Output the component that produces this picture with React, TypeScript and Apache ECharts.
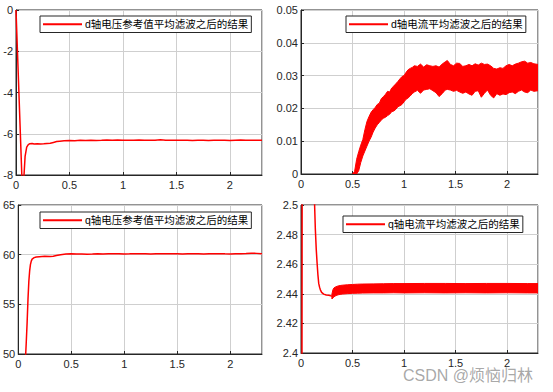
import React, { useEffect, useRef } from "react";
import * as echarts from "echarts";

// ---------- data ----------
const legendNames = [
  "d轴电压参考值平均滤波之后的结果",
  "d轴电流平均滤波之后的结果",
  "q轴电压参考值平均滤波之后的结果",
  "q轴电流平均滤波之后的结果",
];

// top-left: d-axis voltage reference (filtered)
const dVoltT = [0, 0.055, 0.065, 0.075, 0.085, 0.1, 0.115, 0.13, 0.15, 0.17, 0.2, 0.23, 0.26, 0.29, 0.32, 0.35, 0.38, 0.41, 0.45, 0.5,
  0.55, 0.6, 0.65, 0.7, 0.75, 0.8, 0.85, 0.9, 0.95, 1, 1.05, 1.1, 1.15, 1.2, 1.25, 1.3, 1.35, 1.4, 1.45, 1.5, 1.55, 1.6, 1.65, 1.7, 1.75, 1.8, 1.85, 1.9, 1.95, 2, 2.05, 2.1, 2.15, 2.2, 2.25, 2.3];
const dVoltV = [0, -8.1, -8.3, -8.0, -7.1, -6.65, -6.53, -6.48, -6.47, -6.5, -6.48, -6.5, -6.49, -6.47, -6.46, -6.42, -6.38, -6.36, -6.34, -6.33,
  -6.34, -6.32, -6.33, -6.31, -6.33, -6.32, -6.30, -6.31, -6.30, -6.32, -6.31, -6.32, -6.30, -6.31, -6.32, -6.31, -6.29, -6.31, -6.32, -6.31, -6.32, -6.31, -6.33, -6.32, -6.31, -6.33, -6.32, -6.31, -6.32, -6.33, -6.31, -6.30, -6.31, -6.32, -6.31, -6.32];

// top-right: d-axis current (filtered) – envelope of the noisy band
const dCurT = [0.5, 0.52, 0.54, 0.56, 0.58, 0.6, 0.62, 0.64, 0.66, 0.68, 0.7, 0.72, 0.74, 0.76, 0.78, 0.8, 0.82, 0.84, 0.86, 0.88, 0.9, 0.92, 0.94, 0.96, 0.98, 1.0, 1.02, 1.04, 1.06, 1.08, 1.1,
  1.13, 1.16, 1.19, 1.22, 1.25, 1.28, 1.31, 1.34, 1.37, 1.4, 1.42, 1.45, 1.48, 1.51, 1.54, 1.57, 1.6, 1.63, 1.66, 1.69, 1.72, 1.75, 1.78, 1.81, 1.84, 1.87, 1.9, 1.93, 1.96, 1.99, 2.02, 2.05, 2.08, 2.11, 2.14, 2.17, 2.2, 2.23, 2.26, 2.3];
const dCurLo = [0, 0, 0, 0.001, 0.0035, 0.0055, 0.007, 0.0085, 0.01, 0.0112, 0.0128, 0.014, 0.015, 0.0157, 0.0165, 0.017, 0.0173, 0.0178, 0.0182, 0.019, 0.0192, 0.0197, 0.0205, 0.0208, 0.0212, 0.022, 0.0228, 0.0232, 0.0238, 0.0245, 0.025,
  0.0255, 0.0246, 0.0256, 0.0258, 0.026, 0.0254, 0.0248, 0.0236, 0.0245, 0.0256, 0.0258, 0.0256, 0.0252, 0.0255, 0.025, 0.0246, 0.025, 0.0244, 0.024, 0.0252, 0.0254, 0.0234, 0.0246, 0.0256, 0.024, 0.0232, 0.0245, 0.024, 0.0244, 0.0242, 0.0248, 0.025, 0.0245, 0.0252, 0.0256, 0.025, 0.0248, 0.0256, 0.0252, 0.0254];
const dCurUp = [0, 0.0008, 0.0045, 0.0068, 0.0088, 0.0105, 0.0135, 0.016, 0.0175, 0.0188, 0.0196, 0.0203, 0.0212, 0.0216, 0.023, 0.0236, 0.0243, 0.0252, 0.025, 0.0262, 0.0268, 0.0275, 0.0282, 0.029, 0.0297, 0.03, 0.031, 0.0318, 0.0322, 0.0325, 0.033,
  0.0328, 0.0335, 0.0326, 0.0333, 0.033, 0.0328, 0.033, 0.0326, 0.0335, 0.0342, 0.0346, 0.0334, 0.033, 0.0338, 0.0337, 0.0328, 0.033, 0.0334, 0.033, 0.0336, 0.0332, 0.0338, 0.0334, 0.0335, 0.033, 0.0322, 0.032, 0.0324, 0.0322, 0.033, 0.0334, 0.033, 0.0335, 0.0338, 0.0342, 0.0344, 0.0338, 0.034, 0.0336, 0.0334];

// bottom-left: q-axis voltage reference (filtered)
const qVoltT = [0.064, 0.068, 0.075, 0.084, 0.092, 0.1, 0.108, 0.115, 0.123, 0.131, 0.15, 0.17, 0.2, 0.25, 0.3, 0.33, 0.36, 0.4, 0.45, 0.5,
  0.55, 0.6, 0.65, 0.7, 0.75, 0.8, 0.85, 0.9, 0.95, 1, 1.05, 1.1, 1.15, 1.2, 1.25, 1.3, 1.35, 1.4, 1.45, 1.5, 1.55, 1.6, 1.65, 1.7, 1.75, 1.8, 1.85, 1.9, 1.95, 2, 2.05, 2.1, 2.15, 2.2, 2.25, 2.3];
const qVoltV = [46, 49.5, 51.0, 53.2, 55.5, 57.3, 58.4, 59.0, 59.35, 59.55, 59.7, 59.77, 59.8, 59.83, 59.82, 59.85, 59.92, 60.0, 60.06, 60.08,
  60.06, 60.07, 60.05, 60.06, 60.08, 60.07, 60.1, 60.08, 60.09, 60.07, 60.08, 60.1, 60.08, 60.09, 60.07, 60.08, 60.09, 60.08, 60.1, 60.09, 60.07, 60.08, 60.09, 60.08, 60.07, 60.09, 60.08, 60.1, 60.08, 60.07, 60.09, 60.1, 60.12, 60.15, 60.13, 60.1];

// bottom-right: q-axis current (filtered) – start-up curve, then noisy band
const qCurLineT = [0, 0.008, 0.014, 0.12, 0.132, 0.139, 0.148, 0.156, 0.164, 0.172, 0.18, 0.188, 0.2, 0.22, 0.245, 0.27, 0.29, 0.3];
const qCurLineV = [2.3, 2.3, 2.7, 2.56, 2.5, 2.484, 2.47, 2.461, 2.453, 2.447, 2.4445, 2.4427, 2.441, 2.4398, 2.4392, 2.439, 2.4386, 2.4384];
const qCurBandT = [0.3, 0.31, 0.32, 0.34, 0.36, 0.38, 0.4, 0.45, 0.5, 0.55, 0.6, 0.7, 0.8, 0.9, 1.0, 1.2, 1.4, 1.6, 1.8, 2.0, 2.2, 2.3];
const qCurBandLo = [2.4365, 2.4372, 2.438, 2.4388, 2.4393, 2.4396, 2.4398, 2.4401, 2.4403, 2.4404, 2.4405, 2.4406, 2.4406, 2.4407, 2.4406, 2.4407, 2.4406, 2.4407, 2.4406, 2.4407, 2.4406, 2.4406];
const qCurBandUp = [2.4398, 2.4428, 2.444, 2.4448, 2.4453, 2.4456, 2.4458, 2.4461, 2.4463, 2.4465, 2.4466, 2.4467, 2.4468, 2.4469, 2.4469, 2.447, 2.447, 2.4469, 2.447, 2.447, 2.4469, 2.4469];

// axis ranges / ticks
const xMax = 2.3;
const xInterval = 0.5;
const yRanges = [
  { min: -8, max: 0, interval: 2 },
  { min: 0, max: 0.05, interval: 0.01 },
  { min: 50, max: 65, interval: 5 },
  { min: 2.4, max: 2.5, interval: 0.02 },
];

// ---------- chart ----------
const FONT = "'Liberation Sans', Arial, 'Noto Sans CJK SC', sans-serif";
const RED = "#ff0000";
const DARK = "#262626";

const zip = (t: number[], v: number[]) => t.map((x, i) => [x, v[i]]);

function xAxis(gridIndex: number) {
  return {
    type: "value",
    gridIndex,
    min: 0,
    max: xMax,
    interval: xInterval,
    axisLine: { show: true, onZero: false, lineStyle: { color: DARK, width: 1 } },
    axisTick: { show: true, inside: true, length: 3, lineStyle: { color: DARK } },
    axisLabel: { showMaxLabel: false, fontSize: 11, color: DARK, margin: 4, fontFamily: FONT },
    splitLine: { show: true, lineStyle: { color: "#cfcfcf", width: 1 } },
  };
}
function yAxis(gridIndex: number) {
  const r = yRanges[gridIndex];
  return {
    type: "value",
    gridIndex,
    min: r.min,
    max: r.max,
    interval: r.interval,
    axisLine: { show: true, onZero: false, lineStyle: { color: DARK, width: 1 } },
    axisTick: { show: true, inside: true, length: 3, lineStyle: { color: DARK } },
    axisLabel: { fontSize: 11, color: DARK, margin: 3, fontFamily: FONT },
    splitLine: { show: true, lineStyle: { color: "#cfcfcf", width: 1 } },
  };
}

function bandSeries(idx: number, T: number[], Lo: number[], Up: number[]) {
  return {
    type: "custom",
    xAxisIndex: idx,
    yAxisIndex: idx,
    clip: true,
    silent: true,
    data: [[T[0], Lo[0]]],
    renderItem: (_p: any, api: any) => {
      const pts: number[][] = [];
      for (let i = 0; i < T.length; i++) pts.push(api.coord([T[i], Up[i]]));
      for (let i = T.length - 1; i >= 0; i--) pts.push(api.coord([T[i], Lo[i]]));
      return {
        type: "polygon",
        shape: { points: pts },
        style: { fill: RED, stroke: RED, lineWidth: 1 },
      };
    },
  };
}

function legend(idx: number, left: number, top: number) {
  return {
    data: [{ name: legendNames[idx], icon: "rect" }],
    left,
    top,
    orient: "horizontal",
    selectedMode: false,
    backgroundColor: "#ffffff",
    borderColor: DARK,
    borderWidth: 1,
    borderRadius: 0,
    padding: [3, 3, 3, 3],
    itemWidth: 39,
    itemHeight: 2,
    itemStyle: { color: RED, borderWidth: 0 },
    textStyle: { fontSize: 10.5, color: "#000", fontFamily: FONT, padding: [0, 0, 0, -2] },
  };
}

export default function App() {
  const ref = useRef<HTMLDivElement>(null);
  useEffect(() => {
    if (!ref.current) return;
    const chart = echarts.init(ref.current, null, { renderer: "svg" });
    const grids = [
      { left: 16, top: 10, width: 246, height: 165 },
      { left: 301, top: 10, width: 237, height: 164 },
      { left: 16, top: 205, width: 246, height: 149 },
      { left: 301, top: 205, width: 237, height: 148 },
    ].map((g) => ({ ...g, show: true, borderColor: DARK, borderWidth: 1, backgroundColor: "#fff", containLabel: false }));

    const lineBase = { type: "line", symbol: "none", showSymbol: false, clip: true, lineStyle: { color: RED, width: 1.5 }, itemStyle: { color: RED } };

    chart.setOption({
      animation: false,
      backgroundColor: "#ffffff",
      grid: grids,
      xAxis: [0, 1, 2, 3].map(xAxis),
      yAxis: [0, 1, 2, 3].map(yAxis),
      legend: [legend(0, 40, 16), legend(1, 346, 16), legend(2, 40, 212), legend(3, 343, 216)],
      series: [
        { ...lineBase, name: legendNames[0], xAxisIndex: 0, yAxisIndex: 0, data: zip(dVoltT, dVoltV) },
        { ...lineBase, name: legendNames[1], xAxisIndex: 1, yAxisIndex: 1, data: [] },
        bandSeries(1, dCurT, dCurLo, dCurUp),
        { ...lineBase, name: legendNames[2], xAxisIndex: 2, yAxisIndex: 2, data: zip(qVoltT, qVoltV) },
        { ...lineBase, name: legendNames[3], xAxisIndex: 3, yAxisIndex: 3, data: zip(qCurLineT, qCurLineV) },
        bandSeries(3, qCurBandT, qCurBandLo, qCurBandUp),
      ],
      graphic: [
        {
          type: "text",
          left: 403,
          top: 367,
          z: 100,
          silent: true,
          style: { text: "CSDN @烦恼归林", fontSize: 16, fontFamily: FONT, fill: "rgba(130,130,130,0.7)" },
        },
      ],
    });
    return () => chart.dispose();
  }, []);
  return <div ref={ref} style={{ position: "fixed", left: 0, top: 0, width: 553, height: 392 }} />;
}
